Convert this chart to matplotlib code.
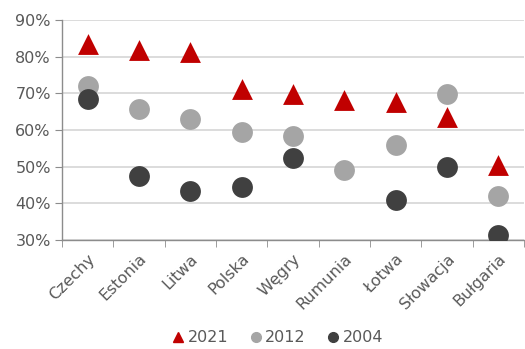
import numpy as np
import matplotlib
matplotlib.use("Agg")
import matplotlib.pyplot as plt
from matplotlib.lines import Line2D
from matplotlib.ticker import FuncFormatter, FixedLocator

countries = ["Czechy", "Estonia", "Litwa", "Polska", "Węgry",
             "Rumunia", "Łotwa", "Słowacja", "Bułgaria"]
y2021 = [83.4, 81.9, 81.2, 71.1, 69.7, 68.1, 67.5, 63.6, 50.6]
y2012 = [72.0, 65.8, 63.0, 59.5, 58.3, 49.0, 55.8, 69.7, 41.9]
y2004 = [68.5, 47.5, 43.5, 44.5, 52.5, np.nan, 41.0, 49.9, 31.4]

text_col = "#595959"
plt.rcParams["font.family"] = ["DejaVu Sans"]

fig = plt.figure(figsize=(5.25, 3.49), dpi=100)
ax = fig.add_axes([0.118, 0.312, 0.88, 0.631])

x = np.arange(len(countries))
ax.scatter(x, y2012, s=225, color="#a5a5a5", marker="o", zorder=3, linewidths=0)
ax.scatter(x, y2004, s=225, color="#404040", marker="o", zorder=4, linewidths=0)
ax.scatter(x, y2021, s=225, color="#c00000", marker="^", zorder=5, linewidths=0)

ax.set_xlim(-0.5, len(countries) - 0.5)
ax.set_ylim(30, 90)
ax.set_yticks(np.arange(30, 91, 10))
ax.yaxis.set_major_formatter(FuncFormatter(lambda v, p: f"{v:.0f}%"))
ax.grid(axis="y", color="#d9d9d9", linewidth=1.3, zorder=0)
ax.set_axisbelow(True)

ax.set_xticks(x)
ax.set_xticklabels(countries, rotation=45, ha="right", rotation_mode="anchor")
ax.xaxis.set_minor_locator(FixedLocator(np.arange(-0.5, len(countries), 1)))
ax.tick_params(axis="x", which="major", length=0, pad=8)
ax.tick_params(axis="x", which="minor", length=5, color="#8c8c8c")
ax.tick_params(axis="y", length=5, color="#8c8c8c", pad=3)
ax.tick_params(labelsize=11.5, labelcolor=text_col)

for s in ["top", "right"]:
    ax.spines[s].set_visible(False)
for s in ["left", "bottom"]:
    ax.spines[s].set_color("#8c8c8c")
    ax.spines[s].set_linewidth(1)

handles = [
    Line2D([], [], marker="^", color="#c00000", linestyle="none", markersize=7),
    Line2D([], [], marker="o", color="#a5a5a5", linestyle="none", markersize=7),
    Line2D([], [], marker="o", color="#404040", linestyle="none", markersize=7),
]
fig.legend(handles, ["2021", "2012", "2004"], loc="center",
           bbox_to_anchor=(0.527, 0.032), ncol=3, frameon=False,
           handletextpad=0.1, columnspacing=1.2, handlelength=1.0,
           labelcolor=text_col, fontsize=11.5)

fig.savefig("out.png", dpi=100)
